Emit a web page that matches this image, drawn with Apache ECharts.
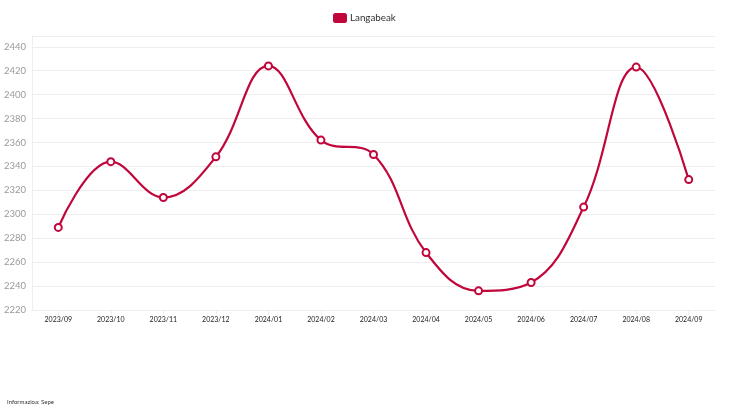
<!DOCTYPE html>
<html>
<head>
<meta charset="utf-8">
<script src="https://cdn.jsdelivr.net/npm/echarts@6/dist/echarts.min.js"></script>
<style>
  html, body { margin: 0; padding: 0; background: #fff; }
  #chart { width: 735px; height: 413px; }
</style>
</head>
<body>
<div id="chart"></div>
<script>
// hilabeteak eta balioak
var months = ['2023/09', '2023/10', '2023/11', '2023/12', '2024/01', '2024/02', '2024/03',
              '2024/04', '2024/05', '2024/06', '2024/07', '2024/08', '2024/09'];
var langabeak = [2289, 2344, 2314, 2348, 2424, 2362, 2350, 2268, 2236, 2243, 2306, 2423, 2329];

var myChart = echarts.init(document.getElementById('chart'));

myChart.setOption({
    color: ['#c0063a'],
    textStyle: { fontFamily: 'Lato' },
    legend: {
        top: 8,
        left: 328,
        itemWidth: 14,
        itemHeight: 10,
        itemGap: 6,
        icon: 'roundRect',
        textStyle: { fontSize: 9.8, color: '#333', fontFamily: 'Lato', padding: [0, 0, 0, -2] },
        data: ['Langabeak']
    },
    graphic: [{
        type: 'text',
        left: 7,
        top: 399,
        style: { text: 'Informazioa: Sepe', fontSize: 6, fill: '#333', fontFamily: 'Lato' }
    }],
    grid: { left: 32, right: 20, top: 36, bottom: 103 },
    xAxis: {
        type: 'category',
        boundaryGap: true,
        data: months,
        axisLine: { show: true, lineStyle: { color: '#eeeeee' } },
        axisTick: { show: true, alignWithLabel: true, lineStyle: { color: '#eeeeee' } },
        axisLabel: { fontSize: 7, color: '#222', margin: 6, fontFamily: 'Lato' }
    },
    yAxis: {
        type: 'value',
        min: 2220,
        max: 2449,
        interval: 20,
        axisLine: { show: true, lineStyle: { color: '#eeeeee' } },
        axisTick: { show: false },
        axisLabel: {
            fontSize: 9.5,
            color: '#9a9a9a',
            margin: 6,
            fontFamily: 'Lato',
            showMaxLabel: false,
            formatter: function (v) { return String(v); }
        },
        splitLine: { lineStyle: { color: '#eeeeee' } }
    },
    series: [{
        name: 'Langabeak',
        type: 'line',
        smooth: 0.4,
        data: langabeak,
        symbol: 'emptyCircle',
        symbolSize: 7,
        lineStyle: { width: 2.2 },
        itemStyle: { borderWidth: 2 }
    }]
});
</script>
</body>
</html>
